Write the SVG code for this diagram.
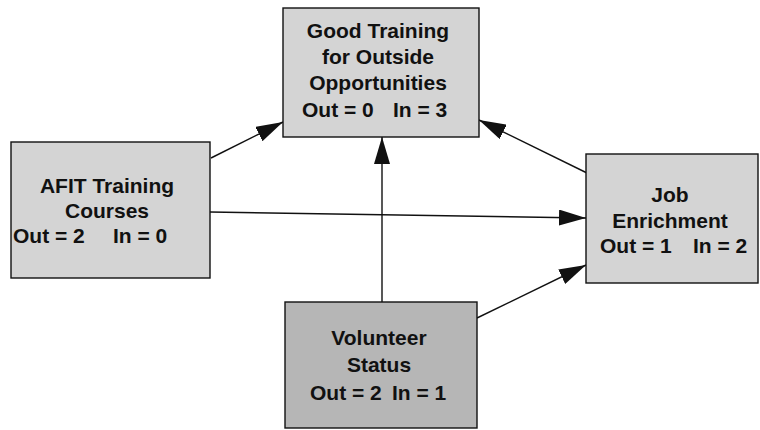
<svg xmlns="http://www.w3.org/2000/svg" width="760" height="430" viewBox="0 0 760 430">
  <style>
    .box { fill: #d4d4d4; stroke: #111; stroke-width: 1.4; }
    .box.dark { fill: #b6b6b6; }
    .lbl { font-family: "Liberation Sans", Arial, sans-serif; font-weight: bold; font-size: 21px; fill: #111; }
    .mid { text-anchor: middle; }
    .edge { stroke: #111; stroke-width: 1.4; fill: none; marker-end: url(#head); }
  </style>
  <defs>
    <!-- solid triangular arrowhead, sized in user units -->
    <marker id="head" markerUnits="userSpaceOnUse" markerWidth="28" markerHeight="16" refX="27" refY="8" orient="auto">
      <path d="M0,0 L27,8 L0,16 Z" fill="#111"/>
    </marker>
  </defs>
  <rect width="760" height="430" fill="#fff"/>

  <g id="connectors">
    <line class="edge" x1="211" y1="158" x2="283" y2="122"/>
    <line class="edge" x1="587" y1="173" x2="479" y2="120"/>
    <line class="edge" x1="210" y1="212" x2="586" y2="218"/>
    <line class="edge" x1="382" y1="302" x2="382" y2="137"/>
    <line class="edge" x1="477" y1="318" x2="586" y2="265"/>
  </g>

  <g id="good-training">
    <rect class="box" x="283" y="8" width="196" height="129"/>
    <text class="lbl mid" x="378" y="38">Good Training</text>
    <text class="lbl mid" x="378" y="64">for Outside</text>
    <text class="lbl mid" x="378" y="90">Opportunities</text>
    <text class="lbl" y="117"><tspan x="302">Out = 0</tspan><tspan x="393">In = 3</tspan></text>
  </g>

  <g id="afit-training">
    <rect class="box" x="11" y="142" width="199" height="136"/>
    <text class="lbl mid" x="107" y="193">AFIT Training</text>
    <text class="lbl mid" x="107" y="218">Courses</text>
    <text class="lbl" y="243"><tspan x="13">Out = 2</tspan><tspan x="113">In = 0</tspan></text>
  </g>

  <g id="job-enrichment">
    <rect class="box" x="586" y="154" width="172" height="129"/>
    <text class="lbl mid" x="670" y="202">Job</text>
    <text class="lbl mid" x="670" y="228">Enrichment</text>
    <text class="lbl" y="253"><tspan x="600">Out = 1</tspan><tspan x="693">In = 2</tspan></text>
  </g>

  <g id="volunteer-status">
    <rect class="box dark" x="285" y="302" width="192" height="126"/>
    <text class="lbl mid" x="379" y="345">Volunteer</text>
    <text class="lbl mid" x="379" y="372">Status</text>
    <text class="lbl" y="400"><tspan x="310">Out = 2</tspan><tspan x="392">In = 1</tspan></text>
  </g>
</svg>
